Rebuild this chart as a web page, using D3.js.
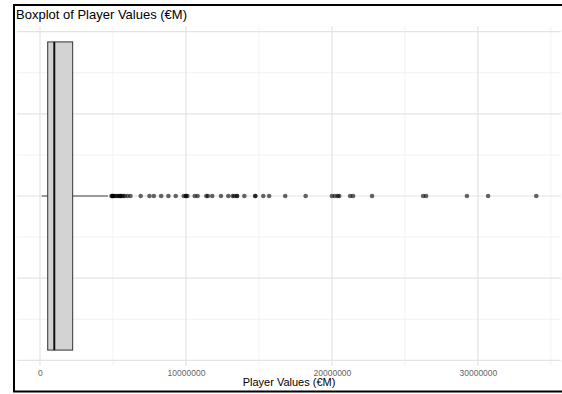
<!DOCTYPE html>
<html>
<head>
<meta charset="utf-8">
<script src="https://cdn.jsdelivr.net/npm/d3@7"></script>
<style>
  html, body { margin: 0; padding: 0; background: #fff; }
  svg { display: block; font-family: "Liberation Sans", Arial, Helvetica, sans-serif; }
</style>
</head>
<body>
<svg id="chart" width="562" height="394"></svg>
<script>
// box summary (euros)
const boxStats = { low: 120000, q1: 530000, median: 980000, q3: 2240000, high: 4650000 };

// outliers (euros)
const outliers = [
  4900000, 4950000, 5000000, 5000000, 5100000, 5200000, 5300000, 5400000,
  5500000, 5500000, 5600000, 5700000, 5800000, 6000000, 6200000,
  6900000, 7500000, 7800000, 8300000, 8800000, 9300000, 9850000,
  10000000, 10000000, 10100000, 10600000, 10800000, 11400000, 11500000,
  11800000, 12400000, 12900000, 13200000, 13300000, 13500000, 13500000,
  14000000, 14750000, 14750000, 15300000, 15700000, 16800000, 18200000,
  20000000, 20200000, 20400000, 20500000, 21250000, 21450000, 22750000,
  26250000, 26450000, 29250000, 30700000, 34000000
];

const xMajor = [0, 10000000, 20000000, 30000000];
const xMinor = [5000000, 15000000, 25000000, 35000000];
const yMajor = [-0.4, -0.2, 0, 0.2, 0.4];
const yMinor = [-0.3, -0.1, 0.1, 0.3];

const chartTitle = 'Boxplot of Player Values (€M)';
const xTitle = 'Player Values (€M)';

const panel = { left: 17, right: 561, top: 26.5, bottom: 365.5 };
const svg = d3.select('#chart');

const lo = boxStats.low;
const hi = d3.max(outliers);
const pad = (hi - lo) * 0.05;

const x = d3.scaleLinear([lo - pad, hi + pad], [panel.left, panel.right]);
const y = d3.scaleLinear([-0.4125, 0.4125], [panel.bottom, panel.top]);

/* grid */
const grid = svg.append('g');
grid.selectAll('.vminor').data(xMinor).enter().append('line')
  .attr('x1', d => x(d)).attr('x2', d => x(d))
  .attr('y1', panel.top).attr('y2', panel.bottom)
  .attr('stroke', '#f2f2f2').attr('stroke-width', 1);
grid.selectAll('.hminor').data(yMinor).enter().append('line')
  .attr('x1', panel.left).attr('x2', panel.right)
  .attr('y1', d => y(d)).attr('y2', d => y(d))
  .attr('stroke', '#f2f2f2').attr('stroke-width', 1);
grid.selectAll('.vmajor').data(xMajor).enter().append('line')
  .attr('x1', d => x(d)).attr('x2', d => x(d))
  .attr('y1', panel.top).attr('y2', panel.bottom)
  .attr('stroke', '#e4e4e4').attr('stroke-width', 1.2);
grid.selectAll('.hmajor').data(yMajor).enter().append('line')
  .attr('x1', panel.left).attr('x2', panel.right)
  .attr('y1', d => y(d)).attr('y2', d => y(d))
  .attr('stroke', '#e4e4e4').attr('stroke-width', 1.2);

/* whiskers */
svg.append('line')
  .attr('x1', x(boxStats.low)).attr('x2', x(boxStats.q1))
  .attr('y1', y(0)).attr('y2', y(0))
  .attr('stroke', '#444').attr('stroke-width', 1);
svg.append('line')
  .attr('x1', x(boxStats.q3)).attr('x2', x(boxStats.high))
  .attr('y1', y(0)).attr('y2', y(0))
  .attr('stroke', '#444').attr('stroke-width', 1);

/* box */
svg.append('rect')
  .attr('x', x(boxStats.q1))
  .attr('y', y(0.375))
  .attr('width', x(boxStats.q3) - x(boxStats.q1))
  .attr('height', y(-0.375) - y(0.375))
  .attr('fill', '#d3d3d3')
  .attr('stroke', '#333')
  .attr('stroke-width', 1);
svg.append('line')
  .attr('x1', x(boxStats.median)).attr('x2', x(boxStats.median))
  .attr('y1', y(0.375)).attr('y2', y(-0.375))
  .attr('stroke', '#111').attr('stroke-width', 2);

/* outliers */
svg.append('g').selectAll('circle').data(outliers).enter().append('circle')
  .attr('cx', d => x(d))
  .attr('cy', y(0))
  .attr('r', 2.3)
  .attr('fill', '#000')
  .attr('fill-opacity', 0.6);

/* bottom axis */
const axis = d3.axisBottom(x)
  .tickValues(xMajor)
  .tickSize(0)
  .tickPadding(4)
  .tickFormat(d3.format('d'));
const ax = svg.append('g')
  .attr('transform', `translate(0, ${panel.bottom})`)
  .call(axis);
ax.select('.domain').remove();
ax.selectAll('text')
  .attr('fill', '#666')
  .attr('font-size', 8.5)
  .attr('font-family', '"Liberation Sans", Arial, Helvetica, sans-serif');

/* titles */
svg.append('text')
  .attr('x', (panel.left + panel.right) / 2)
  .attr('y', 386)
  .attr('text-anchor', 'middle')
  .attr('font-size', 11)
  .attr('fill', '#000')
  .text(xTitle);

svg.append('text')
  .attr('x', 16)
  .attr('y', 18.5)
  .attr('font-size', 13)
  .attr('fill', '#000')
  .text(chartTitle);

/* frame */
svg.append('rect')
  .attr('x', 14)
  .attr('y', 5)
  .attr('width', 620)
  .attr('height', 386.5)
  .attr('fill', 'none')
  .attr('stroke', '#000')
  .attr('stroke-width', 2);
</script>
</body>
</html>
